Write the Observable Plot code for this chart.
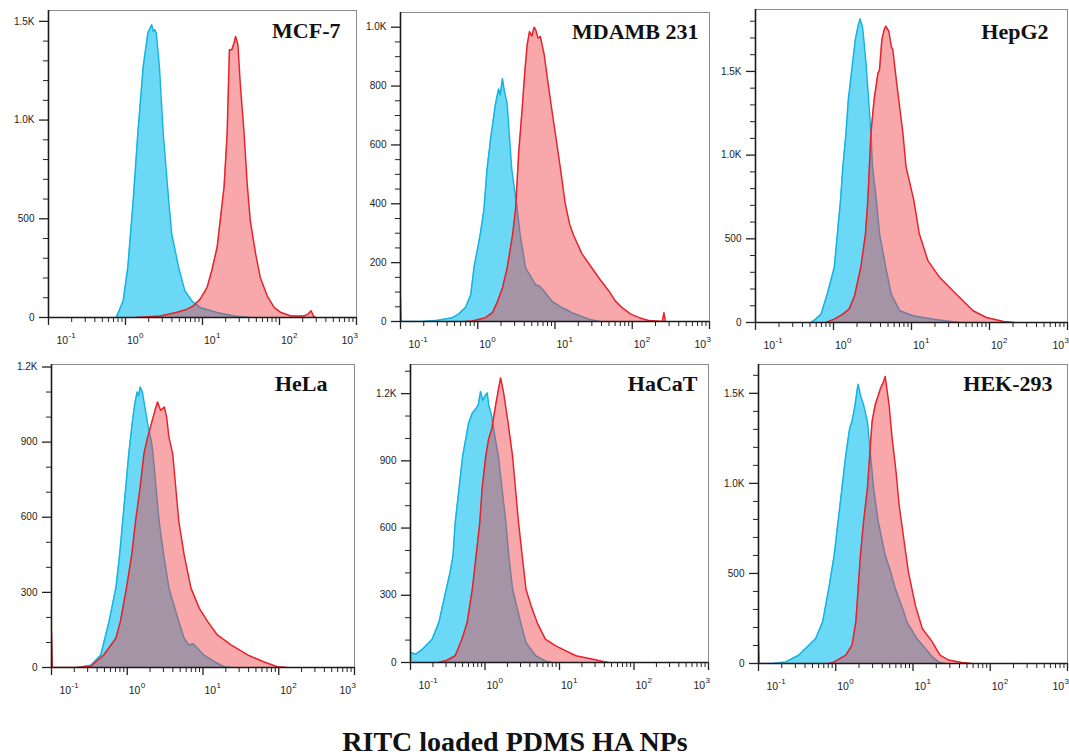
<!DOCTYPE html>
<html>
<head>
<meta charset="utf-8">
<script src="https://cdn.jsdelivr.net/npm/d3@7"></script>
<script src="https://cdn.jsdelivr.net/npm/@observablehq/plot@0.6"></script>
<style>
  body { margin: 0; background: #fff; }
  #chart { position: relative; width: 1069px; height: 756px; overflow: hidden; background: #fff; }
  #caption { position: absolute; left: 0; width: 1030px; top: 726px; line-height: 32px; text-align: center;
             font-family: "Liberation Serif", "Times New Roman", serif; font-weight: bold; font-size: 28px; color: #111; }
</style>
</head>
<body>
<div id="chart"><div id="caption">RITC loaded PDMS HA NPs</div></div>
<script>
// ---------------- DATA (x = log10 fluorescence intensity, y = cell count) ----------------
const cellLines = ["MCF-7", "MDAMB 231", "HepG2", "HeLa", "HaCaT", "HEK-293"];

const xTickExponents = [-1, 0, 1, 2, 3];
const xMinorTicks = [0.2,0.3,0.4,0.5,0.6,0.7,0.8,0.9, 2,3,4,5,6,7,8,9, 20,30,40,50,60,70,80,90, 200,300,400,500,600,700,800,900];

const yMajorTicks = [
  [0, 500, 1000, 1500],
  [0, 200, 400, 600, 800, 1000],
  [0, 500, 1000, 1500],
  [0, 300, 600, 900, 1200],
  [0, 300, 600, 900, 1200],
  [0, 500, 1000, 1500]
];
const yMaxCounts = [1555, 1050, 1870, 1210, 1330, 1660];
const yMinorStep = [100, 50, 100, 100, 100, 100];

// control (cyan) and RITC-loaded PDMS HA NPs (red) histograms
const mcf7Control = [[-0.12,0],[-0.03,85],[0.03,254],[0.10,593],[0.16,932],[0.23,1271],[0.29,1441],[0.34,1483],[0.36,1450],[0.38,1458],[0.40,1441],[0.44,1271],[0.49,932],[0.56,593],[0.60,424],[0.69,254],[0.77,136],[0.86,85],[0.97,51],[1.19,25],[1.41,8],[1.62,0]];
const mcf7Ritc = [[0.14,0],[0.45,8],[0.66,25],[0.80,42],[0.88,59],[0.97,93],[1.06,153],[1.12,237],[1.19,356],[1.23,492],[1.28,661],[1.32,932],[1.35,1356],[1.38,1356],[1.41,1390],[1.43,1424],[1.46,1380],[1.49,1186],[1.54,932],[1.58,678],[1.62,492],[1.69,322],[1.75,203],[1.84,110],[1.93,51],[2.02,25],[2.15,8],[2.32,8],[2.37,17],[2.41,34],[2.44,8],[2.47,0]];

const mdaControl = [[-1.0,80],[-0.99,0],[-0.72,0],[-0.55,3],[-0.33,13],[-0.25,25],[-0.16,47],[-0.09,92],[-0.05,181],[0.03,293],[0.08,380],[0.12,517],[0.17,628],[0.23,740],[0.27,790],[0.29,770],[0.32,825],[0.34,790],[0.38,740],[0.41,628],[0.44,517],[0.50,404],[0.55,293],[0.62,181],[0.75,125],[0.80,120],[0.86,103],[0.96,69],[1.09,47],[1.15,40],[1.22,30],[1.44,8],[1.57,0]];
const mdaRitc = [[-0.16,0],[-0.07,2],[0.10,13],[0.19,30],[0.25,64],[0.32,114],[0.38,181],[0.45,293],[0.49,383],[0.53,573],[0.58,740],[0.61,851],[0.64,941],[0.67,985],[0.70,970],[0.73,1000],[0.75,991],[0.78,963],[0.81,968],[0.86,907],[0.90,829],[0.96,717],[1.01,628],[1.07,520],[1.13,404],[1.19,330],[1.24,293],[1.35,230],[1.48,181],[1.59,140],[1.70,103],[1.78,70],[1.87,47],[1.98,25],[2.09,13],[2.22,3],[2.39,0],[2.41,30],[2.43,0]];

const hepControl = [[-0.29,0],[-0.23,20],[-0.16,50],[-0.08,170],[0.01,330],[0.05,530],[0.09,730],[0.12,930],[0.16,1130],[0.19,1330],[0.24,1530],[0.28,1690],[0.31,1760],[0.34,1814],[0.37,1770],[0.38,1730],[0.42,1530],[0.45,1330],[0.48,1130],[0.50,930],[0.55,730],[0.59,530],[0.67,330],[0.74,170],[0.85,70],[1.02,40],[1.28,20],[1.53,5],[1.62,0]];
const hepRitc = [[-0.10,0],[0.01,20],[0.12,50],[0.20,80],[0.27,160],[0.35,330],[0.41,530],[0.44,730],[0.46,930],[0.48,1130],[0.52,1330],[0.57,1490],[0.59,1510],[0.62,1690],[0.65,1750],[0.67,1770],[0.71,1740],[0.74,1650],[0.76,1630],[0.81,1430],[0.89,1130],[0.93,930],[1.03,730],[1.10,530],[1.21,370],[1.36,270],[1.53,190],[1.66,130],[1.79,70],[1.96,30],[2.18,6],[2.31,0]];

const helaControl = [[-0.66,0],[-0.48,9],[-0.35,50],[-0.24,184],[-0.15,318],[-0.10,452],[-0.06,585],[-0.02,719],[0.02,853],[0.07,987],[0.10,1054],[0.13,1100],[0.15,1085],[0.17,1120],[0.20,1100],[0.27,972],[0.32,900],[0.34,853],[0.38,719],[0.42,585],[0.48,452],[0.55,318],[0.68,184],[0.75,117],[0.79,100],[0.82,90],[0.87,95],[0.93,76],[1.01,50],[1.15,23],[1.28,3],[1.37,0]];
const helaRitc = [[-1.0,140],[-0.99,0],[-0.66,0],[-0.48,5],[-0.31,50],[-0.15,117],[-0.09,184],[-0.01,318],[0.06,452],[0.11,585],[0.17,719],[0.22,853],[0.27,920],[0.33,987],[0.37,1030],[0.40,1060],[0.44,1027],[0.49,1040],[0.52,1000],[0.55,920],[0.60,853],[0.64,719],[0.68,585],[0.75,452],[0.84,318],[0.95,237],[1.06,184],[1.19,130],[1.37,90],[1.59,50],[1.80,23],[1.98,3],[2.11,0]];

const hacatControl = [[-1.0,45],[-0.93,37],[-0.84,59],[-0.71,104],[-0.62,178],[-0.57,252],[-0.52,327],[-0.47,401],[-0.43,475],[-0.40,624],[-0.35,772],[-0.30,921],[-0.26,995],[-0.22,1069],[-0.17,1114],[-0.13,1129],[-0.09,1150],[-0.06,1210],[-0.03,1170],[0.00,1190],[0.03,1203],[0.05,1150],[0.09,1099],[0.14,995],[0.18,921],[0.23,772],[0.28,624],[0.32,475],[0.37,327],[0.48,178],[0.55,89],[0.68,30],[0.81,7],[0.90,0]];
const hacatRitc = [[-0.62,0],[-0.51,10],[-0.40,30],[-0.31,104],[-0.24,178],[-0.17,327],[-0.12,475],[-0.07,624],[-0.04,772],[0.01,921],[0.05,1000],[0.09,1040],[0.14,1143],[0.18,1218],[0.21,1270],[0.25,1203],[0.31,1069],[0.37,921],[0.41,772],[0.45,624],[0.50,475],[0.55,327],[0.62,252],[0.70,178],[0.81,104],[0.95,74],[1.22,30],[1.48,12],[1.60,3],[1.66,0]];

const hekControl = [[-1.0,120],[-0.99,0],[-0.82,0],[-0.65,9],[-0.48,46],[-0.26,139],[-0.17,231],[-0.09,417],[-0.02,602],[0.03,787],[0.08,972],[0.13,1157],[0.18,1306],[0.21,1343],[0.25,1435],[0.28,1528],[0.29,1550],[0.32,1490],[0.36,1435],[0.41,1343],[0.45,1157],[0.49,972],[0.55,787],[0.64,602],[0.71,509],[0.77,417],[0.88,287],[0.92,231],[1.05,139],[1.16,83],[1.25,37],[1.33,9],[1.42,0]];
const hekRitc = [[-0.09,0],[-0.02,9],[0.13,46],[0.21,102],[0.26,231],[0.29,417],[0.32,602],[0.36,787],[0.41,972],[0.44,1157],[0.47,1343],[0.51,1435],[0.58,1528],[0.62,1565],[0.64,1593],[0.67,1500],[0.69,1435],[0.73,1250],[0.78,1065],[0.82,880],[0.88,694],[0.94,509],[1.03,324],[1.12,194],[1.25,120],[1.29,90],[1.35,46],[1.46,19],[1.63,5],[1.76,0]];

const controlSeries = [mcf7Control, mdaControl, hepControl, helaControl, hacatControl, hekControl];
const ritcSeries = [mcf7Ritc, mdaRitc, hepRitc, helaRitc, hacatRitc, hekRitc];

// ---------------- LAYOUT (frame edges in page pixels, label offsets) ----------------
const frames = [
  {L: 48,  T: 10,  R: 356,  B: 317, ldx: -16, ldy: 27},
  {L: 400, T: 12,  R: 709,  B: 321, ldx: -11, ldy: 26},
  {L: 755, T: 9,   R: 1067, B: 322, ldx: -19, ldy: 29},
  {L: 51,  T: 364, R: 354,  B: 667, ldx: -27, ldy: 26},
  {L: 410, T: 364, R: 708,  B: 662, ldx: -11, ldy: 26},
  {L: 758, T: 364, R: 1067, B: 663, ldx: -15, ldy: 26}
];
const M = {l: 46, r: 8, t: 4, b: 36};

const CYAN_FILL = "#6BD9F6", CYAN_LINE = "#16B3E2";
const RED_FILL = "#EE3A3F", RED_LINE = "#E6222A";
const SANS = "Liberation Sans, Arial, sans-serif";
const SERIF = "Liberation Serif, Times New Roman, serif";

const fmtY = d => d >= 1000 ? (d / 1000).toFixed(1) + "K" : String(d);
const X = d => Math.pow(10, d[0]);
const Y = d => d[1];

function xLabelMarks(exps, dx) {
  return [
    Plot.text(exps, {x: e => Math.pow(10, e), text: () => "10", frameAnchor: "bottom", dy: 26, dx,
      textAnchor: "start", lineAnchor: "bottom", fontSize: 10.5, fontFamily: SANS, fill: "#222"}),
    Plot.text(exps, {x: e => Math.pow(10, e), text: e => String(e), frameAnchor: "bottom", dy: 20, dx: dx + 12,
      textAnchor: "start", lineAnchor: "bottom", fontSize: 8, fontFamily: SANS, fill: "#222"})
  ];
}

const chart = document.getElementById("chart");

cellLines.forEach((name, i) => {
  const f = frames[i];
  const W = f.R - f.L + M.l + M.r;
  const H = f.B - f.T + M.t + M.b;
  const minor = d3.range(0, yMaxCounts[i], yMinorStep[i]).filter(v => !yMajorTicks[i].includes(v));
  const svg = Plot.plot({
    width: W, height: H,
    marginLeft: M.l, marginRight: M.r, marginTop: M.t, marginBottom: M.b,
    style: {fontFamily: SANS, fontSize: "10px", background: "transparent", overflow: "visible"},
    x: {type: "log", domain: [0.1, 1000], axis: null},
    y: {domain: [0, yMaxCounts[i]], axis: null},
    marks: [
      Plot.areaY(controlSeries[i], {x: X, y: Y, fill: CYAN_FILL, clip: true}),
      Plot.lineY(controlSeries[i], {x: X, y: Y, stroke: CYAN_LINE, strokeWidth: 1.5, clip: true}),
      Plot.areaY(ritcSeries[i], {x: X, y: Y, fill: RED_FILL, fillOpacity: 0.44, clip: true}),
      Plot.lineY(ritcSeries[i], {x: X, y: Y, stroke: RED_LINE, strokeWidth: 1.5, clip: true}),
      Plot.frame({stroke: "#8c8c8c", strokeWidth: 1}),
      Plot.ruleX([0.1], {stroke: "#1a1a1a", strokeWidth: 1.6}),
      Plot.ruleY([0], {stroke: "#1a1a1a", strokeWidth: 1.6}),
      Plot.axisY({ticks: yMajorTicks[i], tickSize: 9, tickPadding: 5, tickFormat: fmtY, label: null,
        stroke: "#222", strokeWidth: 1.3, fill: "#222", fontSize: 10}),
      Plot.axisY({ticks: minor, tickSize: 5, label: null, stroke: "#222", fill: "none"}),
      Plot.axisX({ticks: xTickExponents.map(e => Math.pow(10, e)), tickSize: 8, label: null, stroke: "#222", strokeWidth: 1.3, fill: "none"}),
      Plot.axisX({ticks: xMinorTicks, tickSize: 5, label: null, stroke: "#222", fill: "none"}),
      ...xLabelMarks(xTickExponents.slice(0, 1), 8),
      ...xLabelMarks(xTickExponents.slice(1, 4), 1.5),
      ...xLabelMarks(xTickExponents.slice(4), -15),
      Plot.text([name], {text: d => d, frameAnchor: "top-right", dx: f.ldx, dy: f.ldy, textAnchor: "end",
        lineAnchor: "bottom", fontFamily: SERIF, fontWeight: "bold", fontSize: 22, fill: "#111"})
    ]
  });
  svg.style.position = "absolute";
  svg.style.left = (f.L - M.l) + "px";
  svg.style.top = (f.T - M.t) + "px";
  chart.appendChild(svg);
});
</script>
</body>
</html>
